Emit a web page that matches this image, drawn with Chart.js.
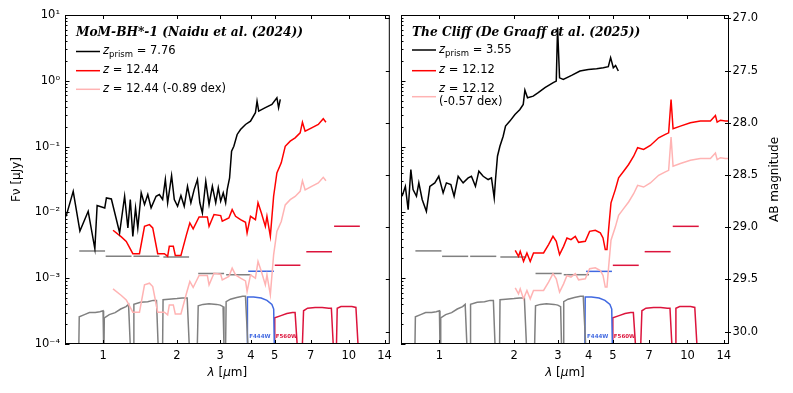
<!DOCTYPE html>
<html>
<head>
<meta charset="utf-8">
<script src="https://cdn.jsdelivr.net/npm/chart.js@4.4.1/dist/chart.umd.min.js"></script>
<style>
  html, body { margin: 0; padding: 0; background: #fff; }
  #wrap { position: relative; width: 793px; height: 393px; }
  canvas { position: absolute; top: 0; }
  #c1 { left: 0; }
  #c2 { left: 397px; }
</style>
</head>
<body>
<div id="wrap">
  <canvas id="c1" width="397" height="393"></canvas>
  <canvas id="c2" width="396" height="393"></canvas>
</div>
<script>
// ---- data ----
const xTicks = [1, 2, 3, 4, 5, 7, 10, 14];
const yTicks = [1e-4, 1e-3, 1e-2, 1e-1, 1, 10];
const abTicks = [27.0, 27.5, 28.0, 28.5, 29.0, 29.5, 30.0];

// MoM-BH*-1 prism spectrum (z = 7.76)
const momPrismWave = [0.707,0.756,0.805,0.870,0.926,0.946,1.016,1.032,1.081,1.168,1.224,1.262,1.291,1.322,1.356,1.385,1.430,1.475,1.521,1.569,1.644,1.695,1.748,1.793,1.832,1.901,1.950,2.011,2.075,2.140,2.207,2.278,2.349,2.422,2.477,2.537,2.619,2.701,2.786,2.875,2.945,3.012,3.085,3.155,3.202,3.274,3.336,3.408,3.515,3.628,3.801,3.983,4.172,4.235,4.302,4.578,4.868,5.101,5.183,5.266];
const momPrismFlux = [0.0087,0.0209,0.0052,0.0104,0.0028,0.0127,0.0117,0.0166,0.0160,0.0049,0.0176,0.0058,0.0157,0.0043,0.0117,0.0058,0.0198,0.0132,0.0187,0.0117,0.0176,0.0187,0.0157,0.0316,0.0140,0.0363,0.0157,0.0124,0.0180,0.0124,0.0249,0.0140,0.0222,0.0316,0.0140,0.0098,0.0297,0.0132,0.0249,0.0140,0.0236,0.0148,0.0198,0.0140,0.0222,0.0335,0.0851,0.101,0.153,0.182,0.217,0.244,0.327,0.491,0.346,0.390,0.438,0.553,0.390,0.521];
// redshifted to z = 12.44, and the same dimmed by 0.89 dex
const momZWave = [1.098,1.187,1.243,1.322,1.407,1.475,1.545,1.593,1.669,1.777,1.832,1.861,1.932,1.968,2.075,2.186,2.256,2.327,2.460,2.658,2.701,2.829,3.012,3.057,3.252,3.354,3.463,3.628,3.801,3.858,3.983,4.172,4.274,4.411,4.578,4.647,4.797,4.947,5.101,5.314,5.516,5.779,6.053,6.344,6.481,6.646,7.066,7.520,7.878,8.078];
const momZFlux = [0.00535,0.00424,0.00363,0.00236,0.00236,0.00614,0.00652,0.00581,0.00236,0.00236,0.00215,0.00305,0.00305,0.00222,0.00222,0.00459,0.00692,0.00561,0.00855,0.00855,0.00614,0.00927,0.00894,0.00733,0.00824,0.0110,0.00873,0.00777,0.00707,0.00488,0.00873,0.00777,0.0140,0.00982,0.00614,0.00873,0.00433,0.0176,0.0399,0.0566,0.101,0.121,0.136,0.162,0.235,0.171,0.193,0.217,0.265,0.235];
const momZFaintFlux = [0.00069,0.000546,0.000468,0.000304,0.000304,0.000791,0.00084,0.000748,0.000304,0.000304,0.000277,0.000393,0.000393,0.000286,0.000286,0.000591,0.000891,0.000723,0.0011,0.0011,0.000791,0.00119,0.00115,0.000944,0.00106,0.00142,0.00112,0.001,0.000911,0.000629,0.00112,0.001,0.0018,0.00126,0.000791,0.00112,0.000558,0.00227,0.00514,0.00729,0.013,0.0156,0.0175,0.0209,0.0303,0.022,0.0249,0.028,0.0341,0.0303];

// The Cliff prism spectrum (z = 3.55)
const cliffPrismWave = [0.707,0.729,0.748,0.767,0.783,0.808,0.826,0.852,0.886,0.915,0.958,0.994,1.035,1.067,1.112,1.146,1.190,1.246,1.306,1.346,1.397,1.442,1.501,1.572,1.621,1.663,1.683,1.714,1.753,1.807,1.847,1.923,2.016,2.111,2.177,2.211,2.265,2.388,2.502,2.663,2.876,2.958,2.994,3.050,3.157,3.410,3.686,3.983,4.301,4.577,4.795,4.899,5.023,5.131,5.262];
const cliffPrismFlux = [0.0176,0.0249,0.0110,0.0448,0.0222,0.0176,0.0281,0.0157,0.0104,0.0249,0.0281,0.0354,0.0198,0.0281,0.0265,0.0176,0.0354,0.0281,0.0335,0.0354,0.0249,0.0423,0.0354,0.0316,0.0335,0.0166,0.0316,0.0714,0.101,0.144,0.205,0.244,0.308,0.367,0.438,0.722,0.553,0.585,0.659,0.785,0.936,0.989,6.43,1.11,1.05,1.21,1.41,1.49,1.53,1.58,1.64,2.25,1.58,1.71,1.41];
// redshifted to z = 12.12, and the same dimmed by 0.57 dex
const cliffZWave = [2.021,2.084,2.117,2.183,2.253,2.323,2.395,2.629,2.754,2.869,2.958,3.050,3.166,3.267,3.390,3.529,3.639,3.873,4.031,4.250,4.452,4.565,4.662,4.736,4.808,4.916,5.117,5.276,5.527,5.790,6.066,6.295,6.656,7.084,7.651,8.141,8.395,8.585,8.747,9.363,10.27,11.27,12.37,12.96,13.17,13.58,14.22,14.67];
const cliffZFlux = [0.00265,0.00215,0.00256,0.0018,0.00242,0.0018,0.00242,0.00242,0.00324,0.00433,0.00363,0.00228,0.00305,0.00409,0.00385,0.00433,0.00351,0.00363,0.00515,0.00535,0.00488,0.00409,0.00272,0.00272,0.00547,0.0140,0.0222,0.0335,0.0423,0.0535,0.0714,0.0960,0.0904,0.104,0.136,0.153,0.162,0.521,0.187,0.205,0.230,0.244,0.244,0.297,0.235,0.252,0.244,0.244];
const cliffZFaintFlux = [0.000713,0.000579,0.000689,0.000485,0.000651,0.000485,0.000651,0.000651,0.000872,0.00117,0.000977,0.000614,0.000821,0.0011,0.00104,0.00117,0.000945,0.000977,0.00139,0.00144,0.00131,0.0011,0.000732,0.000732,0.00147,0.00377,0.00598,0.00902,0.0114,0.0144,0.0192,0.0258,0.0243,0.028,0.0366,0.0412,0.0436,0.14,0.0503,0.0552,0.0619,0.0657,0.0657,0.08,0.0633,0.0678,0.0657,0.0657];

// filters: depth bars and throughput curves (plotted in flux units)
const filterNames = ['F090W','F115W','F150W','F200W','F277W','F356W','F444W','F560W','F770W','F1000W'];
const depthLo   = [0.80, 1.025, 1.33, 1.76, 2.44, 3.17, 3.90, 5.00, 6.72, 8.72];
const depthHi   = [1.019, 1.306, 1.695, 2.24, 3.11, 4.01, 4.96, 6.36, 8.55, 11.1];
const depthFlux = [0.0026, 0.00215, 0.00215, 0.0021, 0.00118, 0.00113, 0.00127, 0.00157, 0.00253, 0.00614];
const filterWave = [
  [0.797, 0.80, 0.84, 0.88, 0.93, 0.97, 1.0, 1.005],
  [1.008, 1.012, 1.06, 1.12, 1.18, 1.24, 1.27, 1.29],
  [1.33, 1.335, 1.42, 1.52, 1.6, 1.65, 1.675],
  [1.748, 1.755, 1.85, 2.0, 2.1, 2.2, 2.242],
  [2.42, 2.44, 2.55, 2.7, 2.9, 3.0, 3.08, 3.105],
  [3.155, 3.17, 3.3, 3.5, 3.7, 3.8, 3.884],
  [3.858, 3.87, 4.1, 4.4, 4.647, 4.868, 4.95, 4.978],
  [4.992, 5.0, 5.3, 5.6, 5.9, 6.05, 6.167],
  [6.48, 6.55, 6.8, 7.3, 7.8, 8.3, 8.5, 8.647],
  [8.918, 8.98, 9.3, 9.8, 10.3, 10.7, 10.91]
];
const filterCurve = [
  [1e-4, 0.00026, 0.00028, 0.0003, 0.0003, 0.00031, 0.00032, 1e-4],
  [1e-4, 0.00025, 0.00028, 0.0003, 0.00034, 0.00037, 0.0004, 1e-4],
  [1e-4, 0.0004, 0.00043, 0.00044, 0.00046, 0.00046, 1e-4],
  [1e-4, 0.00047, 0.00048, 0.00049, 0.0005, 0.0005, 1e-4],
  [1e-4, 0.00038, 0.0004, 0.00041, 0.0004, 0.00039, 0.00037, 1e-4],
  [1e-4, 0.00044, 0.00048, 0.00051, 0.00053, 0.00053, 1e-4],
  [1e-4, 0.00052, 0.00052, 0.0005, 0.00046, 0.0004, 0.00034, 1e-4],
  [1e-4, 0.00025, 0.00027, 0.00029, 0.0003, 0.0003, 1e-4],
  [1e-4, 0.00032, 0.00035, 0.00036, 0.00036, 0.00035, 0.00035, 1e-4],
  [1e-4, 0.00035, 0.00037, 0.00037, 0.00037, 0.00036, 1e-4]
];

// ---- styling ----
const FONT = '"DejaVu Sans", sans-serif';
const PINK = '#ffb3b3';
const filterColor = name => name === 'F444W' ? '#4169e1'
  : (['F560W', 'F770W', 'F1000W'].includes(name) ? '#dc143c' : '#808080');

const pts = (xs, ys) => xs.map((x, i) => ({ x: x, y: ys[i] }));

function buildDatasets(prismW, prismF, zW, zF, zFaint) {
  const sets = [
    { data: pts(prismW, prismF), borderColor: '#000', borderWidth: 1.5, order: 1 },
    { data: pts(zW, zF), borderColor: '#ff0000', borderWidth: 1.5, order: 2 },
    { data: pts(zW, zFaint), borderColor: PINK, borderWidth: 1.5, order: 3 }
  ];
  filterNames.forEach((name, i) => {
    sets.push({ data: pts([depthLo[i], depthHi[i]], [depthFlux[i], depthFlux[i]]),
      borderColor: filterColor(name), borderWidth: 1.5, order: 4 });
    sets.push({ data: pts(filterWave[i], filterCurve[i]),
      borderColor: filterColor(name), borderWidth: 1.5, order: 5 });
  });
  return sets;
}

// draws italic/sub/normal pieces one after another
function richText(ctx, parts, x, y) {
  ctx.textBaseline = 'middle';
  ctx.textAlign = 'left';
  parts.forEach(([t, kind]) => {
    let dy = 0;
    if (kind === 'i') ctx.font = 'italic 11.5px ' + FONT;
    else if (kind === 'sub') { ctx.font = '8.5px ' + FONT; dy = 3.5; }
    else ctx.font = '11.5px ' + FONT;
    ctx.fillText(t, x, y + dy);
    x += ctx.measureText(t).width;
  });
}

function panelPlugin(p) {
  return {
    id: 'panelDecor',
    afterDatasetsDraw(chart) {
      const ctx = chart.ctx, a = chart.chartArea;
      const xs = chart.scales.x, ys = chart.scales.y, ab = chart.scales.ab;
      ctx.save();
      ctx.strokeStyle = '#000';
      ctx.fillStyle = '#000';
      ctx.lineWidth = 1;

      // frame
      ctx.strokeRect(a.left + 0.5, a.top + 0.5, a.right - a.left - 1, a.bottom - a.top - 1);

      ctx.beginPath();
      // x ticks, bottom and top, inward
      xTicks.forEach(v => {
        const px = Math.round(xs.getPixelForValue(v)) + 0.5;
        ctx.moveTo(px, a.bottom); ctx.lineTo(px, a.bottom - 4);
        ctx.moveTo(px, a.top); ctx.lineTo(px, a.top + 4);
      });
      // log ticks on the left edge
      for (let e = -4; e <= 1; e++) {
        const py = Math.round(ys.getPixelForValue(Math.pow(10, e))) + 0.5;
        ctx.moveTo(a.left, py); ctx.lineTo(a.left + 4.5, py);
        if (e < 1) {
          for (let m = 2; m <= 9; m++) {
            const q = Math.round(ys.getPixelForValue(m * Math.pow(10, e))) + 0.5;
            ctx.moveTo(a.left, q); ctx.lineTo(a.left + 2.5, q);
          }
        }
      }
      // AB magnitude ticks on the right edge
      abTicks.forEach(v => {
        const py = Math.round(ab.getPixelForValue(v)) + 0.5;
        ctx.moveTo(a.right + (p.abLabels ? 2 : 0), py); ctx.lineTo(a.right - 4, py);
      });
      ctx.stroke();

      // legend block
      ctx.font = 'bold italic 12.2px "DejaVu Serif", serif';
      ctx.textBaseline = 'middle';
      ctx.textAlign = 'left';
      ctx.fillText(p.title, a.left + 11, 33);
      p.legend.forEach(item => {
        ctx.strokeStyle = item.color;
        ctx.lineWidth = 1.5;
        ctx.beginPath();
        ctx.moveTo(a.left + 11, item.y); ctx.lineTo(a.left + 35, item.y);
        ctx.stroke();
        ctx.fillStyle = '#000';
        item.lines.forEach((ln, k) => richText(ctx, ln, a.left + 38, item.textY[k]));
      });

      // filter name tags
      ctx.font = 'bold 5.5px ' + FONT;
      ctx.textBaseline = 'middle';
      ctx.fillStyle = '#4169e1';
      ctx.fillText('F444W', xs.getPixelForValue(3.9) + 1, a.bottom - 7);
      ctx.fillStyle = '#dc143c';
      ctx.fillText('F560W', xs.getPixelForValue(5.0) + 1, a.bottom - 7);

      // axis titles
      ctx.fillStyle = '#000';
      const cx = (a.left + a.right) / 2;
      ctx.textAlign = 'left';
      ctx.textBaseline = 'middle';
      ctx.font = 'italic 12px ' + FONT;
      const w1 = ctx.measureText('λ').width;
      ctx.font = '12px ' + FONT;
      const w2 = ctx.measureText(' [').width;
      ctx.font = 'italic 12px ' + FONT;
      const w3 = ctx.measureText('μ').width;
      ctx.font = '12px ' + FONT;
      const w4 = ctx.measureText('m]').width;
      let tx = cx - (w1 + w2 + w3 + w4) / 2;
      ctx.font = 'italic 12px ' + FONT; ctx.fillText('λ', tx, 373); tx += w1;
      ctx.font = '12px ' + FONT; ctx.fillText(' [', tx, 373); tx += w2;
      ctx.font = 'italic 12px ' + FONT; ctx.fillText('μ', tx, 373); tx += w3;
      ctx.font = '12px ' + FONT; ctx.fillText('m]', tx, 373);

      if (p.yTitle) {
        ctx.save();
        ctx.translate(17, (a.top + a.bottom) / 2);
        ctx.rotate(-Math.PI / 2);
        ctx.textAlign = 'center';
        ctx.font = '12px ' + FONT;
        ctx.fillText('Fν [μJy]', 0, 0);
        ctx.restore();
      }
      if (p.abTitle) {
        ctx.save();
        ctx.translate(a.right + 46, (a.top + a.bottom) / 2);
        ctx.rotate(-Math.PI / 2);
        ctx.textAlign = 'center';
        ctx.font = '12px ' + FONT;
        ctx.fillText('AB magnitude', 0, 0);
        ctx.restore();
      }
      ctx.restore();
    }
  };
}

const SUP = { '-': '⁻', '0': '⁰', '1': '¹', '2': '²', '3': '³', '4': '⁴' };

function makeChart(id, datasets, p) {
  return new Chart(document.getElementById(id), {
    type: 'line',
    data: { datasets: datasets },
    options: {
      responsive: false,
      animation: false,
      layout: { padding: { top: 15, left: 0, right: 0, bottom: 0 } },
      plugins: { legend: { display: false }, tooltip: { enabled: false } },
      elements: { point: { radius: 0 }, line: { tension: 0 } },
      scales: {
        x: {
          type: 'logarithmic', position: 'bottom', min: 0.7, max: 14.7,
          grid: { display: false, drawTicks: false }, border: { display: false },
          afterBuildTicks: s => { s.ticks = xTicks.map(v => ({ value: v })); },
          afterFit: s => { s.height = 49; },
          ticks: { autoSkip: false, maxRotation: 0, padding: 5, color: '#000',
            font: { family: FONT, size: 11.5 }, callback: v => String(v) }
        },
        y: {
          type: 'logarithmic', position: 'left', min: 1e-4, max: 10,
          grid: { display: false, drawTicks: false }, border: { display: false },
          afterBuildTicks: s => { s.ticks = yTicks.map(v => ({ value: v })); },
          afterFit: s => { s.width = p.leftWidth; },
          ticks: { display: p.yLabels, autoSkip: false, padding: 5, color: '#000',
            font: { family: FONT, size: 11.5 },
            callback: v => '10' + String(Math.round(Math.log10(v))).split('').map(c => SUP[c]).join('') }
        },
        ab: {
          type: 'linear', position: 'right', reverse: true, min: 26.968, max: 30.118,
          grid: { display: false, drawTicks: false }, border: { display: false },
          afterBuildTicks: s => { s.ticks = abTicks.map(v => ({ value: v })); },
          afterFit: s => { s.width = p.rightWidth; },
          ticks: { display: p.abLabels, autoSkip: false, padding: 3.5, color: '#000',
            font: { family: FONT, size: 11.5 }, callback: v => v.toFixed(1) }
        }
      }
    },
    plugins: [panelPlugin(p)]
  });
}

makeChart('c1', buildDatasets(momPrismWave, momPrismFlux, momZWave, momZFlux, momZFaintFlux), {
  leftWidth: 65, rightWidth: 5, yLabels: true, abLabels: false, yTitle: true, abTitle: false,
  title: 'MoM-BH*-1 (Naidu et al. (2024))',
  legend: [
    { color: '#000', y: 51.5, textY: [51], lines: [[['z', 'i'], ['prism', 'sub'], [' = 7.76', 'n']]] },
    { color: '#ff0000', y: 70.7, textY: [70.5], lines: [[['z', 'i'], [' = 12.44', 'n']]] },
    { color: PINK, y: 89.3, textY: [89], lines: [[['z', 'i'], [' = 12.44 (-0.89 dex)', 'n']]] }
  ]
});

makeChart('c2', buildDatasets(cliffPrismWave, cliffPrismFlux, cliffZWave, cliffZFlux, cliffZFaintFlux), {
  leftWidth: 4, rightWidth: 64, yLabels: false, abLabels: true, yTitle: false, abTitle: true,
  title: 'The Cliff (De Graaff et al. (2025))',
  legend: [
    { color: '#000', y: 50, textY: [50], lines: [[['z', 'i'], ['prism', 'sub'], [' = 3.55', 'n']]] },
    { color: '#ff0000', y: 70.7, textY: [70.5], lines: [[['z', 'i'], [' = 12.12', 'n']]] },
    { color: PINK, y: 96.7, textY: [89, 101.7], lines: [[['z', 'i'], [' = 12.12', 'n']], [['(-0.57 dex)', 'n']]] }
  ]
});
</script>
</body>
</html>
